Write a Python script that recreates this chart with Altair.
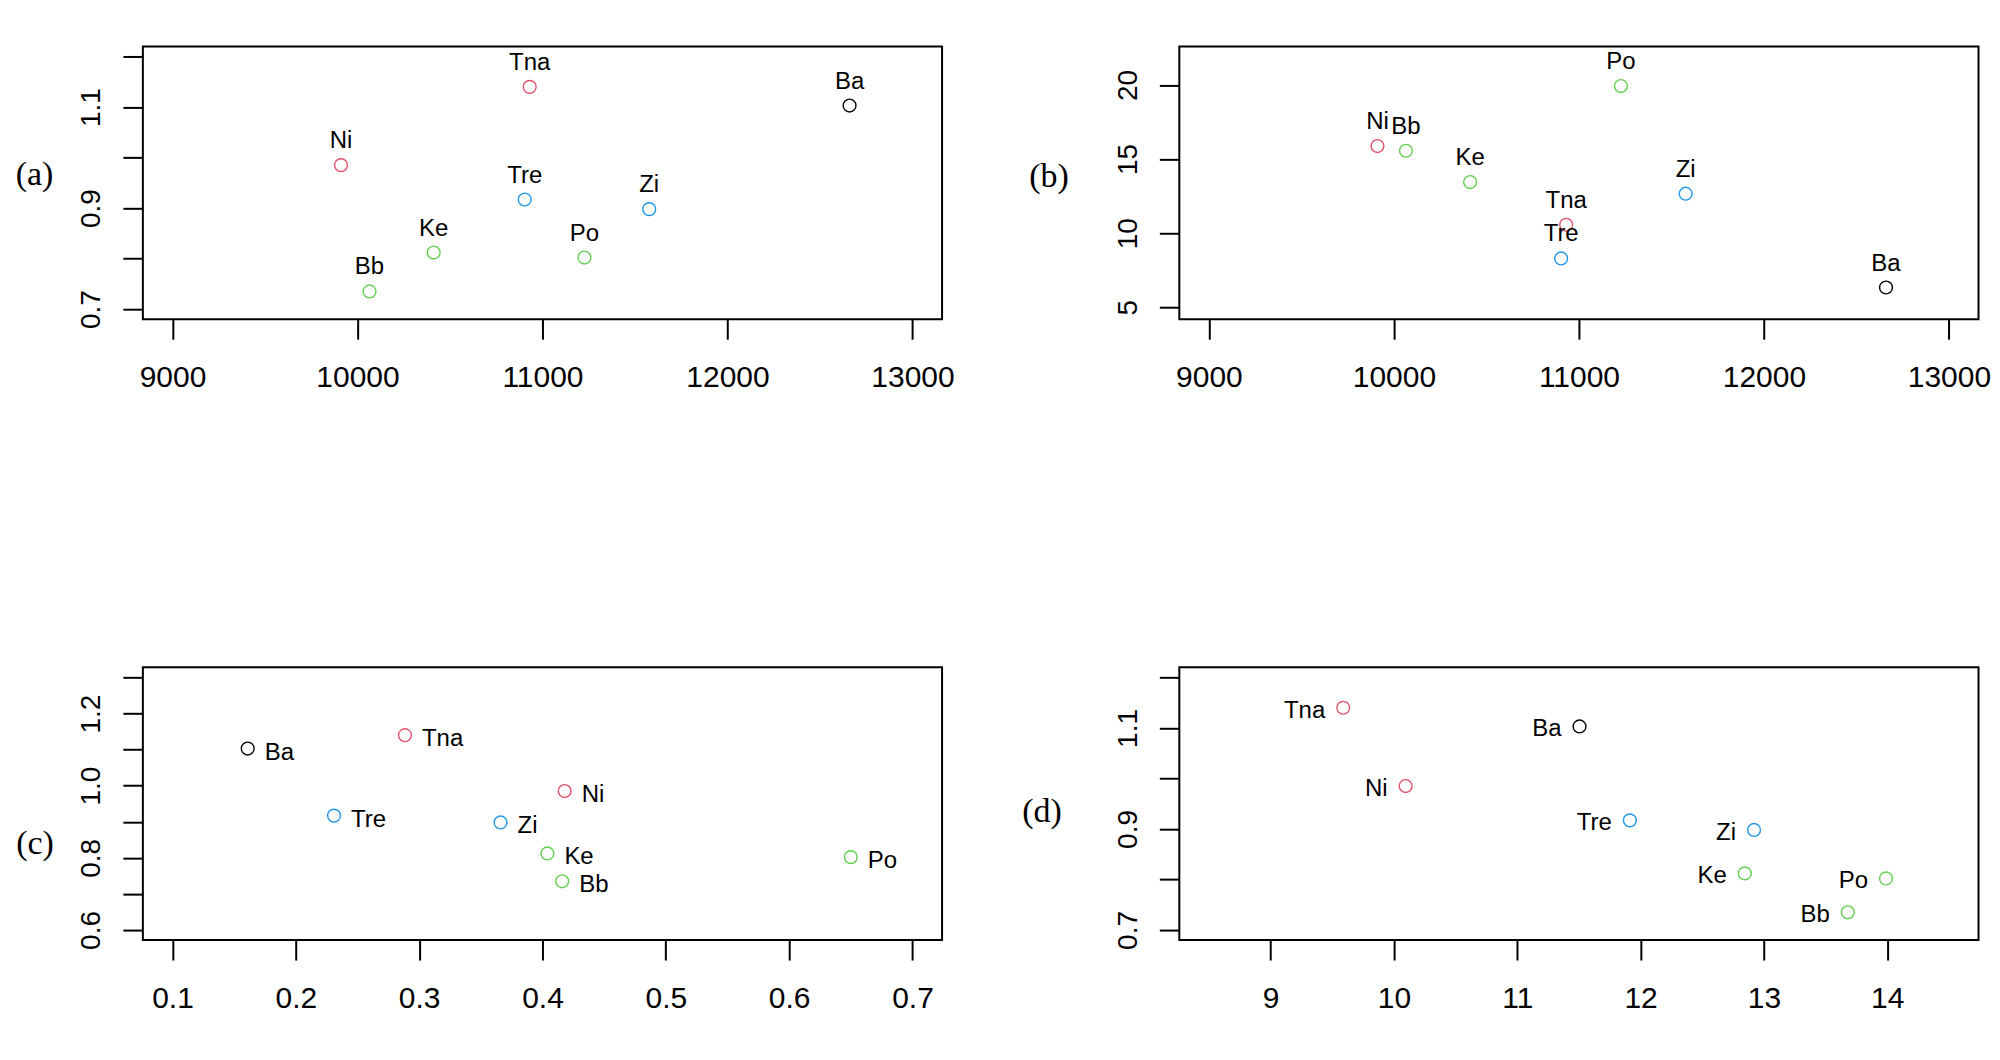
import json
import altair as alt
import pandas as pd

# ---- data ----
names = ["Ba", "Bb", "Ke", "Ni", "Po", "Tna", "Tre", "Zi"]
groups = ["g1", "g3", "g3", "g2", "g3", "g2", "g4", "g4"]

x_ab = [12660, 10065, 10412, 9911, 11227, 10931, 10904, 11577]   # panels (a), (b)
y_acd = [1.103, 0.735, 0.812, 0.985, 0.802, 1.140, 0.917, 0.898]  # panels (a), (c), (d)
y_b = [6.33, 15.56, 13.45, 15.88, 19.93, 10.56, 8.29, 12.66]      # panel (b)
x_c = [0.161, 0.416, 0.404, 0.418, 0.650, 0.2885, 0.231, 0.366]   # panel (c)
x_d = [11.505, 13.68, 12.845, 10.095, 13.99, 9.589, 11.913, 12.92]  # panel (d)

ticks_x_ab = [9000, 10000, 11000, 12000, 13000]
ticks_y_ad = [0.7, 0.8, 0.9, 1.0, 1.1, 1.2]
labels_y_ad = [0.7, 0.9, 1.1]
ticks_y_b = [5, 10, 15, 20]
ticks_x_c = [0.1, 0.2, 0.3, 0.4, 0.5, 0.6, 0.7]
ticks_y_c = [0.6, 0.7, 0.8, 0.9, 1.0, 1.1, 1.2, 1.3]
labels_y_c = [0.6, 0.8, 1.0, 1.2]
ticks_x_d = [9, 10, 11, 12, 13, 14]

pal_domain = ["g1", "g2", "g3", "g4"]
pal_range = ["#000000", "#DF536B", "#61D04F", "#2297E6"]

W, H = 800, 273
LABEL_FONT = "Liberation Sans"


def make_axis(vals, fmt, labeled=None, orient="x"):
    kw = dict(values=vals, format=fmt, title=None, grid=False, domain=False,
              tickSize=20, tickWidth=2, tickColor="black",
              labelFont=LABEL_FONT, labelColor="black",
              labelFlush=False, labelOverlap=False)
    if labeled is not None:
        kw["labelExpr"] = "indexof(%s, datum.value) >= 0 ? datum.label : ''" % json.dumps(labeled)
    if orient == "x":
        kw.update(labelFontSize=30, labelPadding=23, labelBaseline="top", labelAlign="center")
    else:
        kw.update(labelFontSize=28, labelPadding=23, labelAngle=270,
                  labelAlign="center", labelBaseline="alphabetic")
    return alt.Axis(**kw)


def panel(xs, ys, xdom, ydom, xaxis, yaxis, pos, tag, tagx, tagy, fsize=24, anchor=False):
    df = pd.DataFrame({"name": names, "grp": groups, "x": xs, "y": ys})
    base = alt.Chart(df)
    xenc = alt.X("x:Q", scale=alt.Scale(domain=xdom, nice=False, zero=False), axis=xaxis)
    yenc = alt.Y("y:Q", scale=alt.Scale(domain=ydom, nice=False, zero=False), axis=yaxis)
    pts = base.mark_point(shape="circle", filled=False, size=165, strokeWidth=1.4,
                          opacity=1).encode(
        x=xenc, y=yenc,
        color=alt.Color("grp:N", scale=alt.Scale(domain=pal_domain, range=pal_range), legend=None),
    )
    if pos == "top":
        txt = base.mark_text(font=LABEL_FONT, fontSize=fsize, color="black",
                             align="center", baseline="alphabetic", dy=-17)
    elif pos == "right":
        txt = base.mark_text(font=LABEL_FONT, fontSize=fsize, color="black",
                             align="left", baseline="alphabetic", dx=17, dy=11)
    else:
        txt = base.mark_text(font=LABEL_FONT, fontSize=fsize, color="black",
                             align="right", baseline="alphabetic", dx=-18, dy=10)
    txt = txt.encode(x=xenc, y=yenc, text="name:N")
    tag_df = pd.DataFrame({"t": [tag]})
    tagm = alt.Chart(tag_df).mark_text(font="Liberation Serif", fontSize=34, color="black",
                                       align="center", baseline="middle").encode(
        text="t:N", x=alt.value(tagx), y=alt.value(tagy))
    layers = [pts, txt, tagm]
    if anchor:
        anc = alt.Chart(pd.DataFrame({"t": [0]})).mark_rule(color="white", strokeWidth=1).encode(
            x=alt.value(-133), x2=alt.value(-131), y=alt.value(-36))
        layers.append(anc)
    return alt.layer(*layers).properties(width=W, height=H)


pa = panel(x_ab, y_acd, [8840, 13160], [0.68, 1.22],
           make_axis(ticks_x_ab, "d"), make_axis(ticks_y_ad, ".1f", labels_y_ad, "y"),
           "top", "(a)", -108.5, 129, anchor=True)
pb = panel(x_ab, y_b, [8840, 13160], [4.19, 22.6],
           make_axis(ticks_x_ab, "d"), make_axis(ticks_y_b, "d", None, "y"),
           "top", "(b)", -130.5, 131)
pc = panel(x_c, y_acd, [0.076, 0.724], [0.572, 1.328],
           make_axis(ticks_x_c, ".1f"), make_axis(ticks_y_c, ".1f", labels_y_c, "y"),
           "right", "(c)", -108, 177)
pd_ = panel(x_d, y_acd, [8.26, 14.74], [0.68, 1.22],
            make_axis(ticks_x_d, "d"), make_axis(ticks_y_ad, ".1f", labels_y_ad, "y"),
            "left", "(d)", -137.5, 145)

chart = alt.concat(pa, pb, pc, pd_, columns=2,
                   spacing={"row": 348.5, "column": 237.5},
                   bounds="flush").properties(
    padding={"left": 0, "top": 0, "right": 0, "bottom": 0},
    background="white",
).configure_view(stroke="black", strokeWidth=2)

chart.save("out.html", embed_options={"renderer": "svg", "actions": False})
